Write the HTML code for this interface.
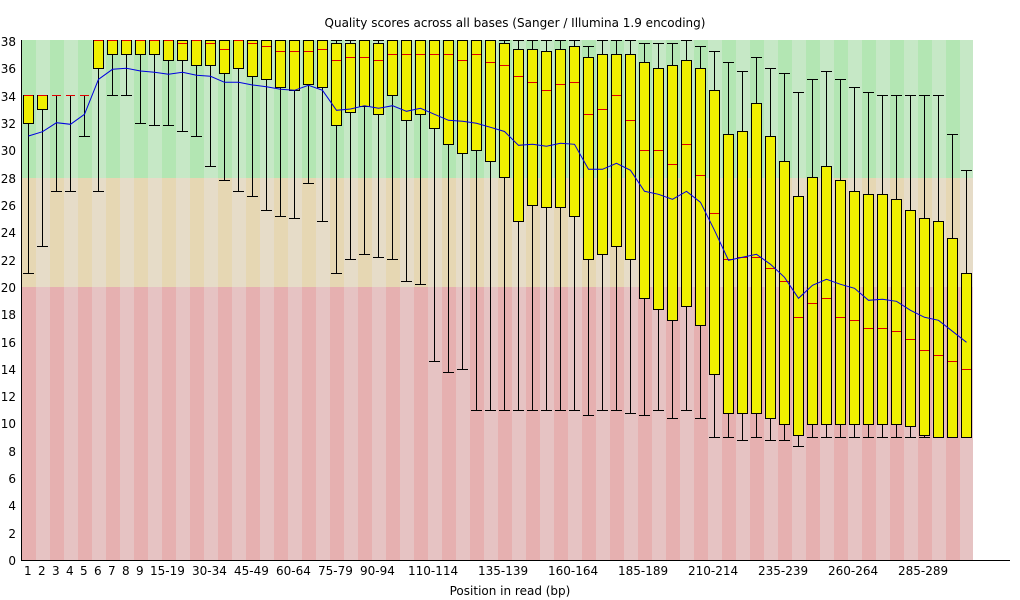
<!DOCTYPE html>
<html><head><meta charset="utf-8"><style>
html,body{margin:0;padding:0;background:#fff;}
svg{display:block;font-family:"DejaVu Sans","Liberation Sans",sans-serif;}
</style></head><body>
<svg id="s" width="1020" height="600" xmlns="http://www.w3.org/2000/svg">
<g id="bg"></g>
<g id="bx"></g>
<line x1="21.5" y1="40" x2="21.5" y2="560.5" stroke="#000"/>
<line x1="21" y1="560.5" x2="1010" y2="560.5" stroke="#000"/>
<text x="515" y="27" font-size="12" text-anchor="middle">Quality scores across all bases (Sanger / Illumina 1.9 encoding)</text>
<text x="510" y="595" font-size="12" text-anchor="middle">Position in read (bp)</text>
<g font-size="12" text-anchor="end">
<text x="16" y="565">0</text><text x="16" y="538">2</text><text x="16" y="510">4</text><text x="16" y="483">6</text><text x="16" y="456">8</text>
<text x="16" y="428">10</text><text x="16" y="401">12</text><text x="16" y="374">14</text><text x="16" y="347">16</text><text x="16" y="319">18</text>
<text x="16" y="292">20</text><text x="16" y="265">22</text><text x="16" y="237">24</text><text x="16" y="210">26</text><text x="16" y="183">28</text>
<text x="16" y="155">30</text><text x="16" y="128">32</text><text x="16" y="101">34</text><text x="16" y="73">36</text><text x="16" y="46">38</text>
</g>
<g font-size="12">
<text x="24" y="575">1</text><text x="38" y="575">2</text><text x="52" y="575">3</text><text x="66" y="575">4</text><text x="80" y="575">5</text>
<text x="94" y="575">6</text><text x="108" y="575">7</text><text x="122" y="575">8</text><text x="136" y="575">9</text>
<text x="150" y="575">15-19</text><text x="192" y="575">30-34</text><text x="234" y="575">45-49</text><text x="276" y="575">60-64</text>
<text x="318" y="575">75-79</text><text x="360" y="575">90-94</text><text x="408" y="575">110-114</text><text x="478" y="575">135-139</text>
<text x="548" y="575">160-164</text><text x="618" y="575">185-189</text><text x="688" y="575">210-214</text><text x="758" y="575">235-239</text>
<text x="828" y="575">260-264</text><text x="898" y="575">285-289</text>
</g>
</svg>
<script>
var D=[[95.3,95.3,123.3,95.3,273.3],[95.3,95.3,109.3,95.3,246],[95.3,95.3,95.3,95.3,191],[95.3,95.3,95.3,95.3,191],[95.3,95.3,95.3,95.3,136],
[40,40,68.3,40,191],[40,40,54.3,40,95.3],[40,40,54.3,40,95.3],[40,40,54.3,40,123.3],[40,40,54.3,40,125.3],
[40,40,60.3,40,125.3],[40,40,60.3,43.3,131.3],[40,40,65.3,40,136],[40,40,65.3,43.3,166.3],[40,40,73.3,49.3,180.3],
[40,40,68.3,40,191],[40,40,76.3,43.3,196.3],[40,40,79.3,46.3,210.3],[40,40,87.3,51.3,216.3],[40,40,90.3,51.3,218.3],
[40,40,84.3,51.3,183.3],[40,40,87.3,49.3,221.3],[40,43.3,125.3,60.3,273.3],[40,43.3,112.3,57.3,259.3],[40,40,106.3,57.3,254.3],
[40,43.3,114.3,60.3,257.3],[40,40,95.3,54.3,259.3],[40,40,120.3,54.3,281.3],[40,40,114.3,54.3,284.3],[40,40,128.3,54.3,361.3],
[40,40,144.3,54.3,372.3],[40,40,153.3,60.3,369.3],[40,40,150.3,54.3,410.3],[40,40,161.3,62.3,410.3],[40,43.3,177.3,65.3,410.3],
[40,49.3,221.3,76.3,410.3],[40,49.3,205.3,82.3,410.3],[40,51.3,207.3,90.3,410.3],[40,49.3,207.3,84.3,410.3],[40,46.3,216.3,82.3,410.3],
[46.3,57.3,259.3,114.3,415.3],[40,54.3,254.3,109.3,410.3],[40,54.3,246.3,95.3,410.3],[40,54.3,259.3,120.3,413.3],[43.3,62.3,298.3,150.3,415.3],
[43.3,68.3,309.3,150.3,410.3],[43.3,65.3,320.3,164.3,418.3],[40,60.3,306.3,144.3,410.3],[46.3,68.3,325.3,175.3,418.3],[51.3,90.3,374.3,213.3,437.3],
[62.3,134.3,413.3,259.3,437.3],[71.3,131.3,413.3,257.3,440.3],[57.3,103.3,413.3,257.3,437.3],[68.3,136.3,418.3,268.3,440.3],[73.3,161.3,424.3,281.3,440.3],
[92.3,196.3,435.3,317.3,446.3],[79.3,177.3,424.3,303.3,437.3],[71.3,166.3,424.3,298.3,437.3],[79.3,180.3,424.3,317.3,437.3],[87.3,191.3,424.3,320.3,437.3],
[92.3,194.3,424.3,328.3,437.3],[95.3,194.3,424.3,328.3,437.3],[95.3,199.3,424.3,331.3,437.3],[95.3,210.3,426.3,339.3,437.3],[95.3,218.3,435.3,350.3,437.3],
[95.3,221.3,437.3,355.3,437.3],[134.3,238.3,437.3,361.3,437.3],[170.3,273.3,437.3,369.3,437.3]];
var M=[136,131.7,122.7,124.3,114.3,79.3,69.3,68.3,71,72.3,74.3,72.3,75.3,76.3,82.3,82.3,85,86.7,89.3,90.3,85.3,90.3,110.3,109,105.7,108.3,105.7,111.3,108.3,114.3,120.3,121.3,123.3,127.3,131.5,145.3,144.3,146.3,143.3,144.3,169.3,169.3,163.3,170.3,191.3,194.3,199.3,191.3,202.3,230.3,260.3,257.3,254.3,264.3,277.3,298.3,285.3,279.3,284.3,288.3,300.3,299.3,301.3,310.3,317.3,320.3,331.3,342.3];
var ns="http://www.w3.org/2000/svg";
function el(p,t,a){var e=document.createElementNS(ns,t);for(var k in a)e.setAttribute(k,a[k]);p.appendChild(e);return e;}
var bg=document.getElementById('bg'),bx=document.getElementById('bx');
var cols=[["#b3e6b3","#c6e8c6"],["#e6d7b3","#e6dcc8"],["#e6b0b0","#e6c3c3"]];
for(var i=0;i<68;i++){var x=22+14*i,w=(i==67)?951-14*67:14,o=i%2;
el(bg,'rect',{x:x,y:40,width:w,height:138,fill:cols[0][o]});
el(bg,'rect',{x:x,y:178,width:w,height:109,fill:cols[1][o]});
el(bg,'rect',{x:x,y:287,width:w,height:273,fill:cols[2][o]});}
function r(v){return Math.round(v)+0.5;}
for(var i=0;i<68;i++){var d=D[i],l=23+14*i,c=l+5.5;
el(bx,'line',{x1:c,y1:r(d[0]),x2:c,y2:r(d[4]),stroke:'#000'});
el(bx,'line',{x1:l,y1:r(d[4]),x2:l+11,y2:r(d[4]),stroke:'#000'});
if(d[0]<d[1]-0.5)el(bx,'line',{x1:l,y1:r(d[0]),x2:l+11,y2:r(d[0]),stroke:'#000'});
if(d[2]-d[1]>1)el(bx,'rect',{x:l+0.5,y:r(d[1]),width:10,height:Math.round(d[2])-Math.round(d[1]),fill:'#f0f000',stroke:'#000'});
el(bx,'line',{x1:l+1,y1:r(d[3]),x2:l+10,y2:r(d[3]),stroke:'#e00000'});}
var pts=M.map(function(v,i){return (28.5+14*i)+','+v;}).join(' ');
el(bx,'polyline',{points:pts,fill:'none',stroke:'#0000e0','stroke-width':1});
</script>
</body></html>
